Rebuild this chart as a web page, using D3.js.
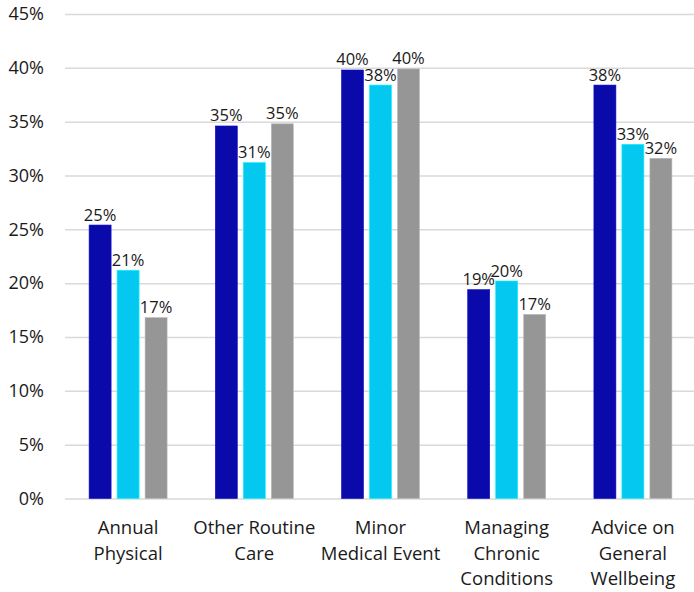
<!DOCTYPE html>
<html>
<head>
<meta charset="utf-8">
<script src="https://cdn.jsdelivr.net/npm/d3@7/dist/d3.min.js"></script>
<style>
  html, body { margin: 0; padding: 0; background: #fff; }
  svg text { font-family: "Open Sans", sans-serif; fill: #1a1a1a; }
</style>
</head>
<body>
<svg id="chart" width="694" height="592"></svg>
<script>
// Care categories (multi-line labels) and the three series, in percent
const categories = [
  ["Annual", "Physical"],
  ["Other Routine", "Care"],
  ["Minor", "Medical Event"],
  ["Managing", "Chronic", "Conditions"],
  ["Advice on", "General", "Wellbeing"]
];
const seriesNames = ["Series A", "Series B", "Series C"];
const seriesA = [25.4, 34.6, 39.8, 19.4, 38.4];
const seriesB = [21.2, 31.2, 38.4, 20.2, 32.9];
const seriesC = [16.8, 34.8, 39.9, 17.1, 31.6];
const yTicks = [0, 5, 10, 15, 20, 25, 30, 35, 40, 45];
const colors = ["#0a0aaa", "#05c8f0", "#969696"];

const values = [seriesA, seriesB, seriesC];
const catKeys = categories.map(c => c.join(" "));
const fontFamily = "'Open Sans', sans-serif";
const tickSize = 18, valueSize = 16.5, catSize = 18.5;

const svg = d3.select("#chart");
const plotLeft = 65, plotRight = 696, plotTop = 14, plotBottom = 498.5;

const x0 = d3.scaleBand().domain(catKeys).range([plotLeft, plotRight]).padding(0);
const groupWidth = 78;
const x1 = d3.scaleBand().domain(seriesNames)
  .range([x0.bandwidth() / 2 - groupWidth / 2, x0.bandwidth() / 2 + groupWidth / 2])
  .paddingInner(0.214).paddingOuter(0);
const y = d3.scaleLinear().domain([0, 45]).range([plotBottom, plotTop]);

// Horizontal gridlines and percent tick labels
const yAxis = d3.axisLeft(y).tickValues(yTicks)
  .tickSize(-(plotRight - plotLeft)).tickFormat(d => d + "%").tickPadding(20);
const yg = svg.append("g").attr("transform", `translate(${plotLeft},0)`).call(yAxis);
yg.select(".domain").remove();
yg.selectAll(".tick line").attr("stroke", "#d9d9d9").attr("stroke-width", 1.5);
yg.selectAll(".tick text").attr("font-size", tickSize).attr("fill", "#1a1a1a")
  .attr("x", -21).style("font-family", fontFamily);

// Grouped bars with value labels
const groups = svg.append("g").selectAll("g").data(catKeys).join("g")
  .attr("transform", d => `translate(${x0(d)},0)`);

groups.each(function(cat, ci) {
  const g = d3.select(this);
  seriesNames.forEach((s, si) => {
    const v = values[si][ci];
    g.append("rect")
      .attr("x", x1(s)).attr("width", x1.bandwidth())
      .attr("y", y(v)).attr("height", y(0) - y(v))
      .attr("fill", colors[si])
      .attr("stroke", d3.color(colors[si]).brighter(0.6)).attr("stroke-width", 0.6);
    g.append("text")
      .attr("x", x1(s) + x1.bandwidth() / 2).attr("y", y(v) - 4.5)
      .attr("text-anchor", "middle").attr("font-size", valueSize)
      .text(d3.format(".0f")(v) + "%");
  });
});

// Category labels beneath the axis
const lab = svg.append("g").selectAll("text").data(categories).join("text")
  .attr("text-anchor", "middle").attr("font-size", catSize)
  .attr("x", (d, i) => x0(catKeys[i]) + x0.bandwidth() / 2);
lab.each(function(lines) {
  const t = d3.select(this);
  lines.forEach((ln, k) => {
    t.append("tspan").attr("x", t.attr("x")).attr("y", 534 + k * 25.5).text(ln);
  });
});
</script>
</body>
</html>
